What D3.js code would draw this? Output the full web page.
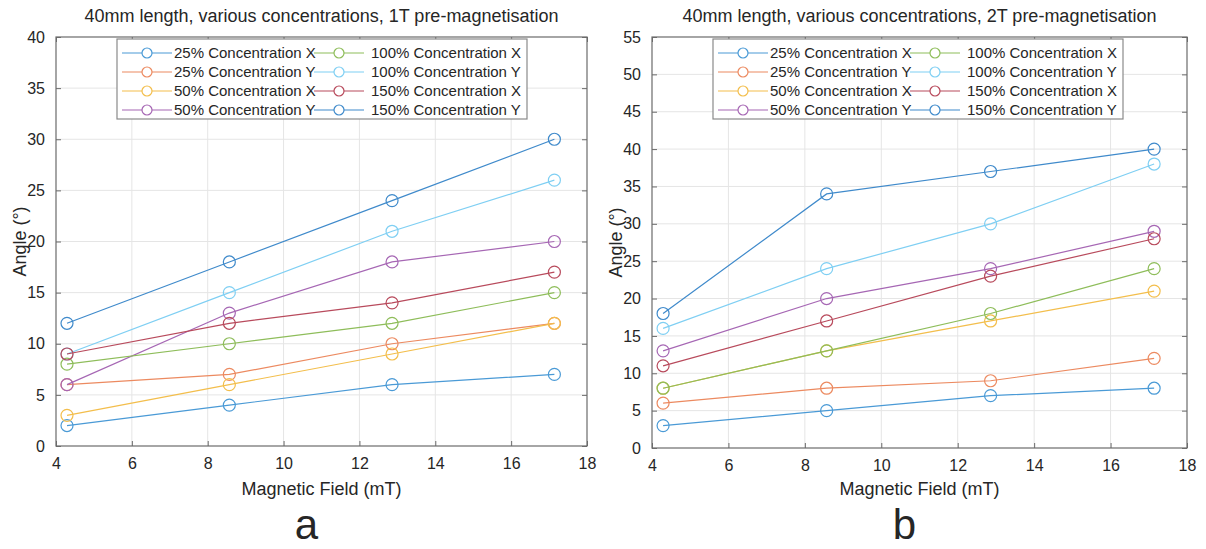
<!DOCTYPE html>
<meta charset="utf-8">
<style>
  body { margin: 0; background: #fff; }
  svg text { font-family: "Liberation Sans", Arial, sans-serif; fill: #262626; }
</style>
<svg width="1206" height="549"></svg>
<script src="https://d3js.org/d3.v7.min.js"></script>
<script>

// magnetic field values (mT), same for every series
var fields = [4.29, 8.57, 12.86, 17.14];

var seriesNames = [
  "25% Concentration X", "25% Concentration Y",
  "50% Concentration X", "50% Concentration Y",
  "100% Concentration X", "100% Concentration Y",
  "150% Concentration X", "150% Concentration Y"
];

// angle (deg), 1T pre-magnetisation
var angles1T = [
  [2, 4, 6, 7],
  [6, 7, 10, 12],
  [3, 6, 9, 12],
  [6, 13, 18, 20],
  [8, 10, 12, 15],
  [9, 15, 21, 26],
  [9, 12, 14, 17],
  [12, 18, 24, 30]
];

// angle (deg), 2T pre-magnetisation
var angles2T = [
  [3, 5, 7, 8],
  [6, 8, 9, 12],
  [8, 13, 17, 21],
  [13, 20, 24, 29],
  [8, 13, 18, 24],
  [16, 24, 30, 38],
  [11, 17, 23, 28],
  [18, 34, 37, 40]
];

var xTicks = [4, 6, 8, 10, 12, 14, 16, 18];
var yTicks1T = d3.range(0, 41, 5);
var yTicks2T = d3.range(0, 56, 5);

var colors = ["#4a9ad6", "#ec8a60", "#f3be4c", "#a667b4",
              "#8ebd5a", "#7fcff3", "#b84a5c", "#3f8acb"];

var svg = d3.select("svg");
svg.append("rect").attr("width", 1206).attr("height", 549).attr("fill", "#fff");

function drawPanel(opt) {
  var left = opt.left, top = 37, width = opt.width, height = opt.height;
  var g = svg.append("g").attr("transform", "translate(" + left + "," + top + ")");

  var x = d3.scaleLinear().domain([4, 18]).range([0, width]);
  var y = d3.scaleLinear().domain([0, opt.yMax]).range([height, 0]);

  // grid
  g.append("g").selectAll("line").data(xTicks.slice(1, -1)).join("line")
      .attr("x1", d => x(d)).attr("x2", d => x(d))
      .attr("y1", 0).attr("y2", height)
      .attr("stroke", "#e5e5e5").attr("stroke-width", 1);
  g.append("g").selectAll("line").data(opt.yTicks.slice(1, -1)).join("line")
      .attr("y1", d => y(d)).attr("y2", d => y(d))
      .attr("x1", 0).attr("x2", width)
      .attr("stroke", "#e5e5e5").attr("stroke-width", 1);

  // axes (ticks inside, on all four sides)
  var axes = [
    [d3.axisBottom(x).tickValues(xTicks).tickSizeInner(-5).tickSizeOuter(0).tickPadding(12), "translate(0," + height + ")", true],
    [d3.axisTop(x).tickValues(xTicks).tickSizeInner(-5).tickSizeOuter(0), null, false],
    [d3.axisLeft(y).tickValues(opt.yTicks).tickSizeInner(-5).tickSizeOuter(0).tickPadding(11), null, true],
    [d3.axisRight(y).tickValues(opt.yTicks).tickSizeInner(-5).tickSizeOuter(0), "translate(" + width + ",0)", false]
  ];
  axes.forEach(function(a) {
    var ag = g.append("g").call(a[0]);
    if (a[1]) ag.attr("transform", a[1]);
    ag.select(".domain").remove();
    ag.selectAll("line").attr("stroke", "#6b6b6b");
    ag.selectAll("text").style("font-size", "16px").attr("fill", "#262626")
        .style("font-family", "'Liberation Sans', Arial, sans-serif");
    if (!a[2]) ag.selectAll("text").remove();
  });

  // box
  g.append("rect").attr("width", width).attr("height", height)
      .attr("fill", "none").attr("stroke", "#6b6b6b").attr("stroke-width", 1.2);

  var line = d3.line().x(d => x(d[0])).y(d => y(d[1]));

  opt.data.forEach(function(vals, i) {
    var pts = fields.map((f, j) => [f, vals[j]]);
    g.append("path").datum(pts)
        .attr("fill", "none").attr("stroke", colors[i]).attr("stroke-width", 1.2)
        .attr("d", line);
    g.append("g").selectAll("circle").data(pts).join("circle")
        .attr("cx", d => x(d[0])).attr("cy", d => y(d[1])).attr("r", 6)
        .attr("fill", "none").attr("stroke", colors[i]).attr("stroke-width", 1.2);
  });

  // legend
  var lg = g.append("g").attr("transform", "translate(" + opt.legendX + ",2)");
  lg.append("rect").attr("width", 410).attr("height", 80)
      .attr("fill", "#fff").attr("stroke", "#8a8a8a").attr("stroke-width", 1.2);
  seriesNames.forEach(function(name, i) {
    var col = Math.floor(i / 4), row = i % 4;
    var ox = col === 0 ? 5 : 197, oy = 14 + row * 19;
    var item = lg.append("g").attr("transform", "translate(" + ox + "," + oy + ")");
    item.append("line").attr("x1", 0).attr("x2", 50).attr("y1", 0).attr("y2", 0)
        .attr("stroke", colors[i]).attr("stroke-width", 1.2);
    item.append("circle").attr("cx", 25).attr("cy", 0).attr("r", 5)
        .attr("fill", "#fff").attr("stroke", colors[i]).attr("stroke-width", 1.2);
    item.append("text").attr("x", col === 0 ? 52 : 57).attr("y", 0).attr("dy", "0.35em")
        .style("font-size", "15px").text(name);
  });

  // titles and labels
  g.append("text").attr("x", width / 2).attr("y", -15)
      .attr("text-anchor", "middle").style("font-size", "18px").text(opt.title);
  g.append("text").attr("x", width / 2).attr("y", 495 - top)
      .attr("text-anchor", "middle").style("font-size", "18px").text("Magnetic Field (mT)");
  g.append("text").attr("transform", "translate(-30," + height / 2 + ") rotate(-90)")
      .attr("text-anchor", "middle").style("font-size", "18px").text("Angle (°)");
  g.append("text").attr("x", width / 2 - 15).attr("y", 539 - top)
      .attr("text-anchor", "middle").style("font-size", "42px").attr("fill", "#000").text(opt.letter);
}

drawPanel({left: 56, width: 531, height: 409, yMax: 40, yTicks: yTicks1T, data: angles1T,
  legendX: 61, letter: "a", title: "40mm length, various concentrations, 1T pre-magnetisation"});
drawPanel({left: 652, width: 535, height: 411, yMax: 55, yTicks: yTicks2T, data: angles2T,
  legendX: 61, letter: "b", title: "40mm length, various concentrations, 2T pre-magnetisation"});

</script>
